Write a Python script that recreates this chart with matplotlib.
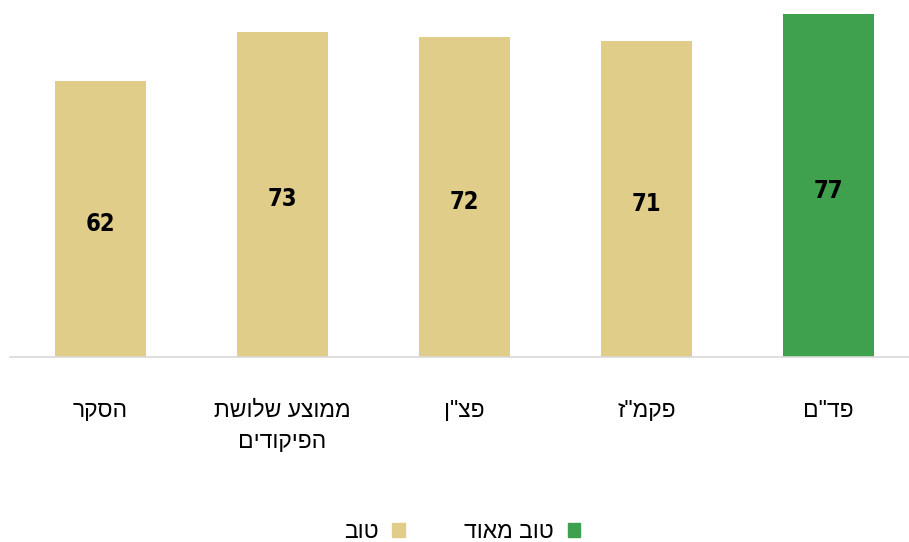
import matplotlib
matplotlib.use('Agg')
import matplotlib.pyplot as plt
from matplotlib.patches import Patch

# --- data (left to right as drawn) ---
categories = ['הסקר', 'ממוצע שלושת\nהפיקודים', 'פצ"ן', 'פקמ"ז', 'פד"ם']
values = [62, 73, 72, 71, 77]
groups = ['טוב', 'טוב', 'טוב', 'טוב', 'טוב מאוד']
legend_labels = ['טוב', 'טוב מאוד']

COLORS = {'טוב': '#E1CD8A', 'טוב מאוד': '#3FA04E'}
HEB_FONT = ['Liberation Sans', 'DejaVu Sans']


def rtl(s):
    # matplotlib has no bidi support, so flip each line by hand
    return '\n'.join(line[::-1] for line in s.split('\n'))


fig = plt.figure(figsize=(9.09, 5.42), dpi=100)
ax = fig.add_axes([9.5 / 909, 1 - 357 / 542, 910 / 909, 356 / 542])

x = range(len(values))
bars = ax.bar(x, values, width=0.5, color=[COLORS[g] for g in groups])

for b, v in zip(bars, values):
    ax.text(b.get_x() + b.get_width() / 2, v / 2 - 1.1, str(v), ha='center', va='center',
            fontsize=17, fontweight='bold', fontstretch='condensed', family='DejaVu Sans',
            color='black')

ax.set_xlim(-0.5, 4.5)
ax.set_ylim(0, 80)
ax.set_xticks(list(x))
ax.set_xticklabels([rtl(c) for c in categories], family=HEB_FONT, fontsize=16.5,
                   va='top', linespacing=1.45)
ax.tick_params(axis='x', length=0, pad=30)
ax.set_yticks([])
for side in ['top', 'right', 'left']:
    ax.spines[side].set_visible(False)
ax.spines['bottom'].set_color('#D9D9D9')
ax.spines['bottom'].set_linewidth(1.2)

handles = [Patch(color=COLORS[g]) for g in legend_labels]
fig.legend(handles, [rtl(l) for l in legend_labels], loc='center',
           bbox_to_anchor=(462 / 909, 1 - 532 / 542), ncol=2, frameon=False,
           markerfirst=False, handlelength=0.55, handleheight=0.55,
           columnspacing=2.6, handletextpad=0.6,
           prop={'family': HEB_FONT, 'size': 16.5})

fig.savefig('out.png', dpi=100)
